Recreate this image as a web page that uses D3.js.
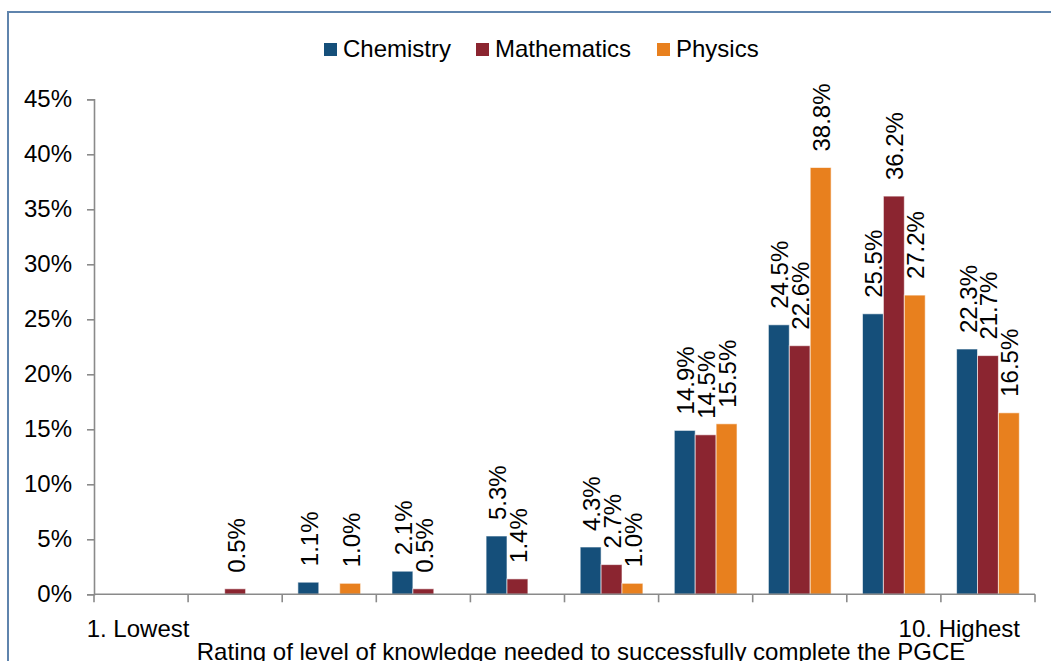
<!DOCTYPE html>
<html>
<head>
<meta charset="utf-8">
<script src="https://cdn.jsdelivr.net/npm/d3@7"></script>
<style>
  body { margin: 0; background: #fff; }
  text { font-family: "Liberation Sans", Arial, sans-serif; fill: #000; }
</style>
</head>
<body>
<div id="chart"></div>
<script>
// data (percent)
var categories = ['1. Lowest', '2', '3', '4', '5', '6', '7', '8', '9', '10. Highest'];
var tickLabels = ['1. Lowest', '', '', '', '', '', '', '', '', '10. Highest'];
var seriesNames = ['Chemistry', 'Mathematics', 'Physics'];
var chemistry = [null, null, 1.1, 2.1, 5.3, 4.3, 14.9, 24.5, 25.5, 22.3];
var mathematics = [null, 0.5, null, 0.5, 1.4, 2.7, 14.5, 22.6, 36.2, 21.7];
var physics = [null, null, 1.0, null, null, 1.0, 15.5, 38.8, 27.2, 16.5];
var yTicks = [0, 5, 10, 15, 20, 25, 30, 35, 40, 45];
var colors = ['#154f7a', '#8b2530', '#e8801e'];

(function () {
	var W = 1051, H = 661,
		left = 94, right = 1035, top = 99.3, bottom = 594.3,
		fs = '24px';

	var svg = d3.select('#chart').append('svg')
		.attr('width', W)
		.attr('height', H);

	// outer frame (right and bottom edges fall outside the picture)
	svg.append('rect')
		.attr('x', 8).attr('y', 12)
		.attr('width', 1200).attr('height', 800)
		.attr('fill', 'none')
		.attr('stroke', '#5f84ad')
		.attr('stroke-width', 2);

	var x = d3.scaleBand().domain(categories).range([left, right]).padding(0);
	var inner = d3.scaleBand().domain(seriesNames)
		.range([0, x.bandwidth()]).paddingInner(0).paddingOuter(0.75);
	var y = d3.scaleLinear().domain([0, 45]).range([bottom, top]);

	// y axis
	var yAxis = svg.append('g')
		.attr('transform', 'translate(' + left + ',0)')
		.call(d3.axisLeft(y).tickValues(yTicks).tickSize(7).tickPadding(15)
			.tickFormat(function (d) { return d + '%'; }));
	yAxis.select('.domain').attr('stroke', '#8a8a8a').attr('stroke-width', 1.6);
	yAxis.selectAll('.tick line').attr('stroke', '#8a8a8a').attr('stroke-width', 1.6);
	yAxis.selectAll('.tick text')
		.style('font-size', fs)
		.attr('fill', '#000');

	// bars
	var series = [chemistry, mathematics, physics];
	var rows = [];
	series.forEach(function (vals, s) {
		vals.forEach(function (v, i) {
			if (v !== null) rows.push({cat: categories[i], s: seriesNames[s], k: s, v: v});
		});
	});

	var bars = svg.append('g');
	bars.selectAll('rect')
		.data(rows)
		.enter()
		.append('rect')
			.attr('x', function (d) { return x(d.cat) + inner(d.s); })
			.attr('y', function (d) { return y(d.v); })
			.attr('width', inner.bandwidth())
			.attr('height', function (d) { return bottom - y(d.v); })
			.attr('fill', function (d) { return colors[d.k]; })
			.attr('stroke', 'rgba(255,255,255,0.6)')
			.attr('stroke-width', 1);

	// x axis (ticks between categories)
	var bounds = categories.map(function (c) { return x(c); }).concat([right]);
	var xg = svg.append('g');
	xg.append('line')
		.attr('x1', left).attr('x2', right)
		.attr('y1', bottom).attr('y2', bottom)
		.attr('stroke', '#8a8a8a').attr('stroke-width', 1.6);
	xg.selectAll('line.tk')
		.data(bounds)
		.enter()
		.append('line')
			.attr('class', 'tk')
			.attr('x1', function (d) { return d; }).attr('x2', function (d) { return d; })
			.attr('y1', bottom).attr('y2', bottom + 8)
			.attr('stroke', '#8a8a8a').attr('stroke-width', 1.6);

	xg.selectAll('text')
		.data(tickLabels)
		.enter()
		.append('text')
			.attr('x', function (d, i) { return x(categories[i]) + x.bandwidth() / 2; })
			.attr('y', 637)
			.attr('text-anchor', 'middle')
			.style('font-size', fs)
			.text(function (d) { return d; })
			.each(function () {
				// keep the end labels inside the plot, as the original does
				var w = this.getComputedTextLength();
				var cx = +d3.select(this).attr('x');
				if (cx + w / 2 > right - 15) d3.select(this).attr('x', right - 15 - w / 2);
				else if (cx - w / 2 < left - 6) d3.select(this).attr('x', left - 6 + w / 2);
				else d3.select(this).attr('x', cx - 3);
			});

	// data labels, rotated
	svg.append('g').selectAll('text')
		.data(rows)
		.enter()
		.append('text')
			.attr('transform', function (d) {
				var cx = x(d.cat) + inner(d.s) + inner.bandwidth() / 2 + 9.5;
				return 'translate(' + cx + ',' + (y(d.v) - 16) + ')rotate(-90)';
			})
			.style('font-size', fs)
			.text(function (d) { return d.v.toFixed(1) + '%'; });

	// axis title
	svg.append('text')
		.attr('x', 581)
		.attr('y', 660)
		.attr('text-anchor', 'middle')
		.style('font-size', fs)
		.text('Rating of level of knowledge needed to successfully complete the PGCE');

	// legend
	var legX = [324, 476, 657];
	var leg = svg.append('g').selectAll('g')
		.data(seriesNames)
		.enter()
		.append('g')
			.attr('transform', function (d, i) { return 'translate(' + legX[i] + ',43)'; });
	leg.append('rect')
		.attr('width', 13).attr('height', 13)
		.attr('fill', function (d, i) { return colors[i]; });
	leg.append('text')
		.attr('x', 19).attr('y', 14)
		.style('font-size', fs)
		.text(function (d) { return d; });
})();
</script>
</body>
</html>
